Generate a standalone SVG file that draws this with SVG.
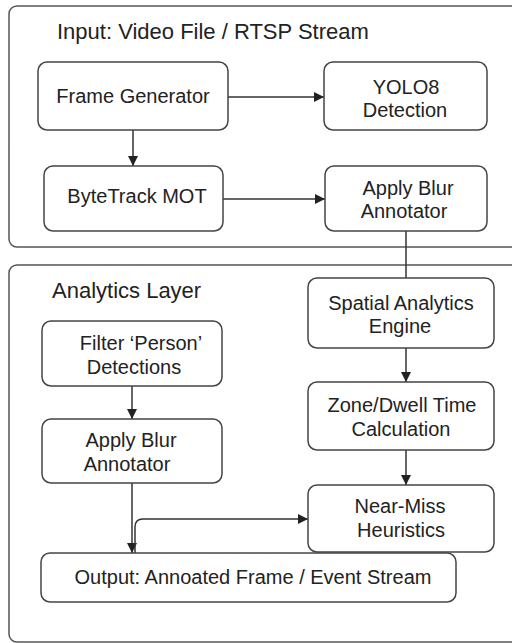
<svg xmlns="http://www.w3.org/2000/svg" width="512" height="643" viewBox="0 0 512 643">
<defs>
<style>
.panel{fill:#fff;stroke:#555;stroke-width:1.5}
.box{fill:#fff;stroke:#444;stroke-width:1.5}
.t{font-family:"Liberation Sans",Arial,sans-serif;font-size:20px;fill:#222;text-anchor:middle}
.title{font-family:"Liberation Sans",Arial,sans-serif;font-size:22px;fill:#222}
.c{fill:none;stroke:#333;stroke-width:1.5}
</style>
<marker id="ah" viewBox="0 0 10 10" refX="10" refY="5" markerWidth="10" markerHeight="10" markerUnits="userSpaceOnUse" orient="auto">
<path d="M0,0 L10,5 L0,10 Z" fill="#222"/>
</marker>
</defs>
<rect width="512" height="643" fill="#fff"/>
<g id="panel-input">
<rect class="panel" x="9" y="6" width="520" height="241" rx="8"/>
<text class="title" x="57" y="39">Input: Video File / RTSP Stream</text>
</g>
<g id="panel-analytics">
<rect class="panel" x="9" y="265" width="520" height="377" rx="8"/>
<text class="title" x="52" y="298">Analytics Layer</text>
</g>
<g id="connectors">
<line class="c" x1="228" y1="97" x2="324" y2="97" marker-end="url(#ah)"/>
<line class="c" x1="133" y1="130" x2="133" y2="166" marker-end="url(#ah)"/>
<line class="c" x1="223" y1="199" x2="325" y2="199" marker-end="url(#ah)"/>
<line class="c" x1="406" y1="231" x2="406" y2="278"/>
<line class="c" x1="406" y1="348" x2="406" y2="382" marker-end="url(#ah)"/>
<line class="c" x1="406" y1="450" x2="406" y2="485" marker-end="url(#ah)"/>
<line class="c" x1="132" y1="386" x2="132" y2="419" marker-end="url(#ah)"/>
<line class="c" x1="132" y1="483" x2="132" y2="553" marker-end="url(#ah)"/>
<path class="c" d="M135,553 L135,527 Q135,519 143,519 L308,519" marker-end="url(#ah)"/>
</g>
<g id="frame-generator">
<rect class="box" x="38" y="62" width="190" height="68" rx="9"/>
<text class="t" x="133" y="103">Frame Generator</text>
</g>
<g id="yolo8">
<rect class="box" x="324" y="62" width="163" height="68" rx="9"/>
<text class="t" x="406" y="94">YOLO8</text>
<text class="t" x="405" y="117">Detection</text>
</g>
<g id="bytetrack">
<rect class="box" x="44" y="166" width="179" height="65" rx="9"/>
<text class="t" x="137" y="203">ByteTrack MOT</text>
</g>
<g id="apply-blur-top">
<rect class="box" x="325" y="166" width="162" height="65" rx="9"/>
<text class="t" x="408" y="195">Apply Blur</text>
<text class="t" x="404" y="218">Annotator</text>
</g>
<g id="spatial-analytics">
<rect class="box" x="308" y="278" width="186" height="70" rx="9"/>
<text class="t" x="401" y="310">Spatial Analytics</text>
<text class="t" x="400" y="333">Engine</text>
</g>
<g id="filter-person">
<rect class="box" x="42" y="321" width="180" height="65" rx="9"/>
<text class="t" x="141" y="350">Filter ‘Person’</text>
<text class="t" x="134" y="374">Detections</text>
</g>
<g id="apply-blur-bottom">
<rect class="box" x="42" y="419" width="180" height="64" rx="9"/>
<text class="t" x="131" y="447">Apply Blur</text>
<text class="t" x="127" y="471">Annotator</text>
</g>
<g id="zone-dwell">
<rect class="box" x="308" y="382" width="186" height="68" rx="9"/>
<text class="t" x="402" y="412">Zone/Dwell Time</text>
<text class="t" x="401" y="436">Calculation</text>
</g>
<g id="near-miss">
<rect class="box" x="308" y="485" width="186" height="67" rx="9"/>
<text class="t" x="400" y="513">Near-Miss</text>
<text class="t" x="401" y="537">Heuristics</text>
</g>
<g id="output">
<rect class="box" x="41" y="553" width="415" height="49" rx="9"/>
<text class="t" x="253" y="584">Output: Annoated Frame / Event Stream</text>
</g>
</svg>
